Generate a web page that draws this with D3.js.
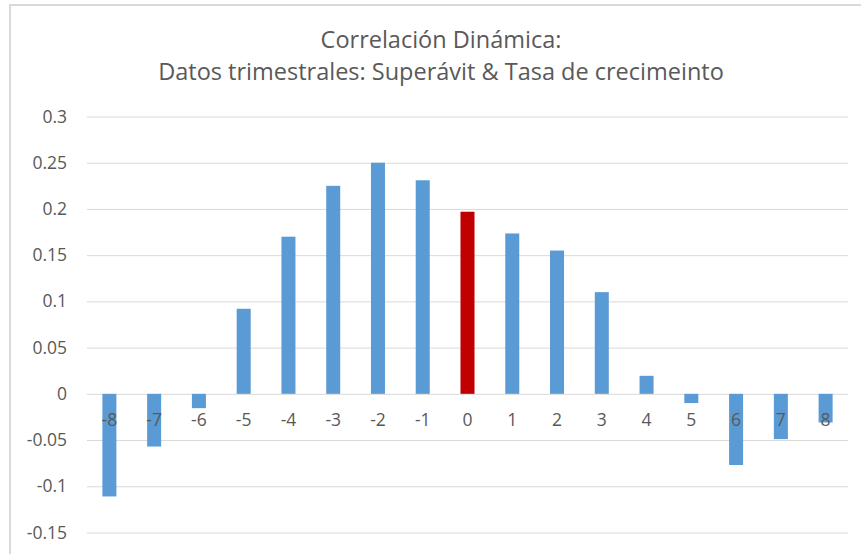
<!DOCTYPE html>
<html>
<head>
<meta charset="utf-8">
<script src="https://cdn.jsdelivr.net/npm/d3@7"></script>
<style>
  html, body { margin: 0; padding: 0; background: #fff; }
  svg { display: block; font-family: "Open Sans", sans-serif; }
</style>
</head>
<body>
<div id="chart"></div>
<script>
const width = 861;
const height = 554;

// datos
const lags = ["-8", "-7", "-6", "-5", "-4", "-3", "-2", "-1", "0", "1", "2", "3", "4", "5", "6", "7", "8"];
const corr = [-0.111, -0.057, -0.0155, 0.092, 0.170, 0.225, 0.250, 0.231, 0.197, 0.1735, 0.155, 0.110, 0.0195, -0.010, -0.077, -0.049, -0.031];
const yTicks = [-0.15, -0.1, -0.05, 0, 0.05, 0.1, 0.15, 0.2, 0.25, 0.3];
const titleLines = ["Correlación Dinámica:", "Datos trimestrales: Superávit & Tasa de crecimeinto"];

const plot = { left: 87, right: 848, top: 116.5, bottom: 532.5 };

const svg = d3.select("#chart").append("svg")
    .attr("width", width)
    .attr("height", height);

// marco del gráfico
svg.append("rect")
    .attr("x", 10).attr("y", 5)
    .attr("width", 880).attr("height", 600)
    .attr("fill", "#fff")
    .attr("stroke", "#d9d9d9")
    .attr("stroke-width", 2);

const x = d3.scaleBand()
    .domain(lags)
    .range([plot.left, plot.right])
    .paddingInner(0.687)
    .paddingOuter(0.687 / 2);

const y = d3.scaleLinear()
    .domain([-0.15, 0.3])
    .range([plot.bottom, plot.top]);

// eje Y con líneas de cuadrícula
const yAxis = svg.append("g")
    .attr("transform", `translate(${plot.left},0)`)
    .call(d3.axisLeft(y)
        .tickValues(yTicks)
        .tickSize(-(plot.right - plot.left))
        .tickPadding(20)
        .tickFormat(d => String(+d.toFixed(2))));
yAxis.select(".domain").remove();
yAxis.selectAll("line").attr("stroke", "#d9d9d9");
yAxis.selectAll("text")
    .attr("fill", "#595959")
    .style("font-size", "17.5px")
    .style("font-family", "'Open Sans', sans-serif");

// barras
svg.append("g").selectAll("rect")
    .data(corr)
    .join("rect")
    .attr("x", (d, i) => x(lags[i]))
    .attr("width", x.bandwidth())
    .attr("y", d => y(Math.max(0, d)))
    .attr("height", d => Math.abs(y(d) - y(0)))
    .attr("fill", (d, i) => lags[i] === "0" ? "#c00000" : "#5b9bd5");

// eje X en el cero
const xAxis = svg.append("g")
    .attr("transform", `translate(0,${y(0)})`)
    .call(d3.axisBottom(x).tickSize(0).tickPadding(20));
xAxis.select(".domain").remove();
xAxis.selectAll("text")
    .attr("fill", "#595959")
    .style("font-size", "17.5px")
    .style("font-family", "'Open Sans', sans-serif");

// título
svg.append("g").selectAll("text")
    .data(titleLines)
    .join("text")
    .attr("x", 441)
    .attr("y", (d, i) => 48 + i * 32)
    .attr("text-anchor", "middle")
    .attr("fill", "#595959")
    .style("font-size", "23.5px")
    .text(d => d);
</script>
</body>
</html>
